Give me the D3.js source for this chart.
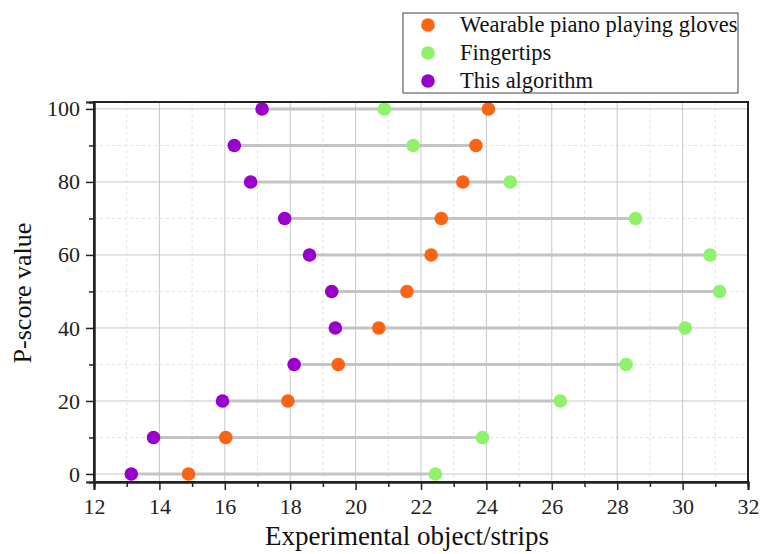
<!DOCTYPE html>
<html>
<head>
<meta charset="utf-8">
<script src="https://cdn.jsdelivr.net/npm/d3@7/dist/d3.min.js"></script>
<style>
  body { margin: 0; background: #fff; }
  svg text { font-family: "Liberation Serif", "Times New Roman", serif; }
</style>
</head>
<body>
<div id="chart"></div>
<script>
// P-score rows (y) and the three methods (x values)
let pscore = [0, 10, 20, 30, 40, 50, 60, 70, 80, 90, 100];
let gloves = [14.89, 16.03, 17.93, 19.47, 20.71, 21.57, 22.31, 22.62, 23.28, 23.68, 24.06];
let fingertips = [22.44, 23.88, 26.26, 28.27, 30.08, 31.13, 30.84, 28.56, 24.73, 21.76, 20.88];
let algorithm = [13.14, 13.82, 15.93, 18.12, 19.38, 19.27, 18.59, 17.83, 16.79, 16.29, 17.14];

let seriesNames = ['Wearable piano playing gloves', 'Fingertips', 'This algorithm'];
let seriesColors = ['#fa6414', '#8ef26a', '#9a00cc'];

let xTicks = [12, 14, 16, 18, 20, 22, 24, 26, 28, 30, 32];
let xMinor = [13, 15, 17, 19, 21, 23, 25, 27, 29, 31];
let yTicks = [0, 20, 40, 60, 80, 100];
let yMinor = [10, 30, 50, 70, 90];

let width = 760, height = 554;
let margin = {top: 102, right: 12, bottom: 72, left: 94};

let svg = d3.select('#chart').append('svg')
  .attr('width', width)
  .attr('height', height);

let x = d3.scaleLinear().domain([12, 32]).range([margin.left, width - margin.right]);
let y = d3.scaleLinear().domain([-2.2, 101.9]).range([height - margin.bottom, margin.top]);

let plot = svg.append('g');

// minor grid (dashed)
plot.selectAll('.vminor').data(xMinor).enter().append('line')
  .attr('x1', d => x(d)).attr('x2', d => x(d))
  .attr('y1', y.range()[1]).attr('y2', y.range()[0])
  .attr('stroke', '#e2e2e2').attr('stroke-dasharray', '3,3');
plot.selectAll('.hminor').data(yMinor).enter().append('line')
  .attr('y1', d => y(d)).attr('y2', d => y(d))
  .attr('x1', x.range()[0]).attr('x2', x.range()[1])
  .attr('stroke', '#e2e2e2').attr('stroke-dasharray', '3,3');

// major grid
plot.selectAll('.vmajor').data(xTicks).enter().append('line')
  .attr('x1', d => x(d)).attr('x2', d => x(d))
  .attr('y1', y.range()[1]).attr('y2', y.range()[0])
  .attr('stroke', '#c8c8c8').attr('stroke-width', 1);
plot.selectAll('.hmajor').data(yTicks).enter().append('line')
  .attr('y1', d => y(d)).attr('y2', d => y(d))
  .attr('x1', x.range()[0]).attr('x2', x.range()[1])
  .attr('stroke', '#c8c8c8').attr('stroke-width', 1);

// dumbbell connectors
let rows = pscore.map((p, i) => ({p: p, vals: [gloves[i], fingertips[i], algorithm[i]]}));
plot.selectAll('.conn').data(rows).enter().append('line')
  .attr('x1', d => x(d3.min(d.vals))).attr('x2', d => x(d3.max(d.vals)))
  .attr('y1', d => y(d.p)).attr('y2', d => y(d.p))
  .attr('stroke', '#c4c4c4').attr('stroke-width', 3);

// dots
[gloves, fingertips, algorithm].forEach((arr, k) => {
  plot.selectAll('.dot' + k).data(arr).enter().append('circle')
    .attr('cx', d => x(d))
    .attr('cy', (d, i) => y(pscore[i]))
    .attr('r', 6.8)
    .attr('fill', seriesColors[k]);
});

// frame
svg.append('rect')
  .attr('x', x.range()[0]).attr('y', y.range()[1])
  .attr('width', x.range()[1] - x.range()[0])
  .attr('height', y.range()[0] - y.range()[1])
  .attr('fill', 'none').attr('stroke', '#222').attr('stroke-width', 2);

// axes
svg.append('g')
  .attr('transform', 'translate(0,' + y.range()[0] + ')')
  .call(d3.axisBottom(x).tickValues(xTicks).tickSize(8).tickPadding(8));
svg.append('g')
  .attr('transform', 'translate(0,' + y.range()[0] + ')')
  .call(d3.axisBottom(x).tickValues(xMinor).tickSize(5).tickFormat(''));
svg.append('g')
  .attr('transform', 'translate(' + x.range()[0] + ',0)')
  .call(d3.axisLeft(y).tickValues(yTicks).tickSize(8).tickPadding(6));
svg.append('g')
  .attr('transform', 'translate(' + x.range()[0] + ',0)')
  .call(d3.axisLeft(y).tickValues(yMinor).tickSize(5).tickFormat(''));

svg.selectAll('.domain').attr('stroke', '#222').attr('stroke-width', 2);
svg.selectAll('.tick line').attr('stroke', '#222').attr('stroke-width', 1.5);
svg.selectAll('.tick text')
  .style('font-family', '"Liberation Serif", serif')
  .style('font-size', '22px').attr('fill', '#222');

// axis titles
svg.append('text')
  .attr('x', 407).attr('y', 545)
  .attr('text-anchor', 'middle')
  .style('font-size', '27px').attr('fill', '#111')
  .text('Experimental object/strips');
svg.append('text')
  .attr('transform', 'translate(31,293) rotate(-90)')
  .attr('text-anchor', 'middle')
  .style('font-size', '26px').attr('fill', '#111')
  .text('P-score value');

// legend
let legend = svg.append('g');
legend.append('rect')
  .attr('x', 403).attr('y', 13).attr('width', 335).attr('height', 80)
  .attr('fill', '#fff').attr('stroke', '#444').attr('stroke-width', 1);
seriesNames.forEach((name, i) => {
  let ly = 25 + i * 28;
  legend.append('circle').attr('cx', 428).attr('cy', ly).attr('r', 6.8).attr('fill', seriesColors[i]);
  legend.append('text').attr('x', 460).attr('y', ly + 7)
    .style('font-size', '22.5px').attr('fill', '#111').text(name);
});
</script>
</body>
</html>
